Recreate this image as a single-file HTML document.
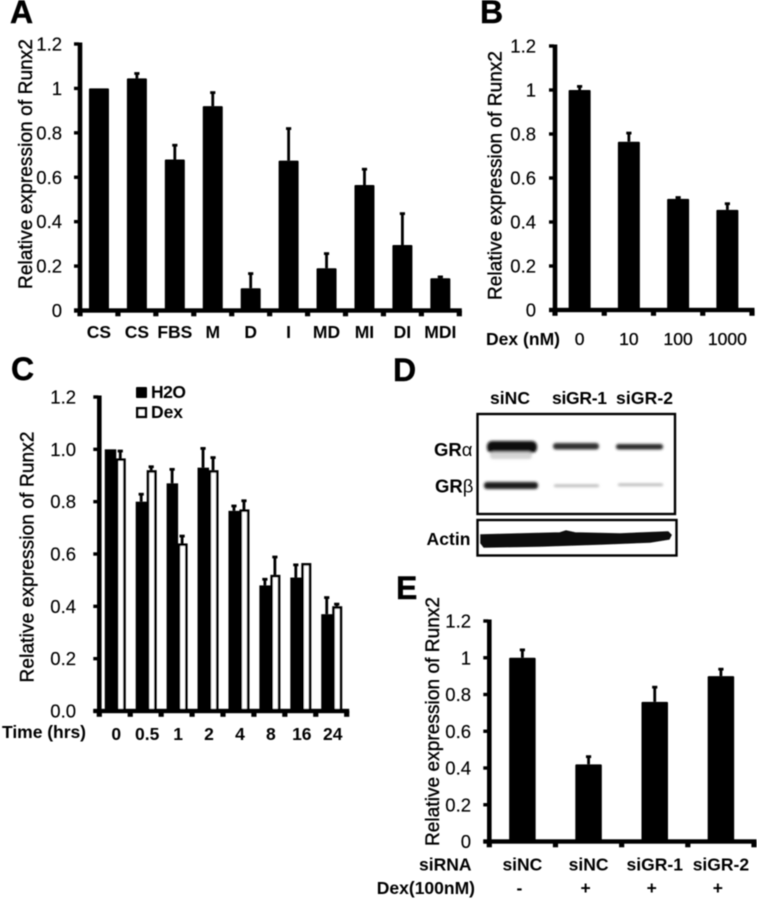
<!DOCTYPE html>
<html lang="en">
<head>
<meta charset="utf-8">
<title>Relative expression of Runx2</title>
<style>
html,body{margin:0;padding:0;background:#fff;}
svg{display:block;}
text{font-family:"Liberation Sans",Arial,sans-serif;fill:#000;}
.panel{font-weight:bold;font-size:32px;stroke:#000;stroke-width:.4px;}
.tick{font-size:18.5px;stroke:#000;stroke-width:.15px;}
.title{font-size:19px;stroke:#000;stroke-width:.4px;}
.cat{font-size:17.5px;font-weight:bold;}
.num{font-size:17.5px;stroke:#000;stroke-width:.3px;}
.blot{font-size:18.5px;font-weight:bold;}
</style>
</head>
<body>
<svg id="figure" xmlns="http://www.w3.org/2000/svg" width="757" height="900" viewBox="0 0 757 900">
  <defs>
    <filter id="soft" x="-2%" y="-2%" width="104%" height="104%"><feGaussianBlur stdDeviation="0.45"/></filter>
    <filter id="band" x="-20%" y="-80%" width="140%" height="260%"><feGaussianBlur stdDeviation="1.3"/></filter>
  </defs>
  <g id="root" filter="url(#soft)">
    <text class="panel" x="10" y="23">A</text>
    <text class="panel" x="480" y="23">B</text>
    <text class="panel" x="11" y="380">C</text>
    <text class="panel" x="393" y="381">D</text>
    <text class="panel" x="396" y="599">E</text>

    <text class="cat" x="486" y="345" textLength="74">Dex (nM)</text>
    <text class="cat" x="2" y="738" textLength="84">Time (hrs)</text>

    <rect x="136" y="387" width="11" height="11" rx="1"/>
    <text class="cat" x="151" y="398" textLength="35">H2O</text>
    <rect x="137.300" y="408.300" width="8.500" height="8.500" fill="#fff" stroke="#000" stroke-width="2.600"/>
    <text class="cat" x="151" y="418" textLength="32">Dex</text>

    <g>
      <text class="cat" x="490" y="404" textLength="40">siNC</text>
      <text class="cat" x="552" y="404" textLength="55">siGR-1</text>
      <text class="cat" x="616" y="404" textLength="57">siGR-2</text>
      <rect x="477.500" y="414" width="197.500" height="100" fill="none" stroke="#000" stroke-width="2.400"/>
      <rect x="477.500" y="520" width="199" height="35.500" fill="none" stroke="#000" stroke-width="2.400"/>
      <text class="blot" x="434" y="456">GR<tspan font-weight="normal">α</tspan></text>
      <text class="blot" x="435" y="492.500">GR<tspan font-weight="normal">β</tspan></text>
      <text class="cat" x="426.500" y="545" textLength="44">Actin</text>
      <g filter="url(#band)">
        <rect x="487" y="441" width="50" height="12" rx="5" fill="#0a0a0a"/>
        <rect x="490" y="452" width="42" height="7" rx="3" fill="#d4d4d4"/>
        <rect x="553" y="443" width="46" height="6.500" rx="3" fill="#333"/>
        <rect x="616" y="444" width="47" height="5.500" rx="2.500" fill="#2a2a2a"/>
        <rect x="484" y="482" width="54" height="7" rx="3" fill="#1a1a1a"/>
        <rect x="554" y="484.500" width="45" height="2.500" rx="1" fill="#b5b5b5"/>
        <rect x="618" y="483.500" width="45" height="2.500" rx="1" fill="#b5b5b5"/>
      </g>
      <path d="M481 535 L520 534 L560 533 L566 531 L575 533 L620 534 L668 532 L671 535 L669 539 L650 542 L600 544 L540 546 L484 547 L481 543 Z" fill="#111" stroke="#111" stroke-width="1.500"/>
    </g>

    <text class="cat" x="471.500" y="870.500" text-anchor="end">siRNA</text>
    <text class="cat" x="475" y="894" text-anchor="end">Dex(100nM)</text>
  </g>
</svg>
<script>
/* ---------- Panel A ---------- */
const aCategories = ["CS", "CS", "FBS", "M", "D", "I", "MD", "MI", "DI", "MDI"];
const aValues = [1, 1.045, 0.68, 0.92, 0.1, 0.675, 0.19, 0.565, 0.295, 0.145];
const aErrors = [0, 0.024, 0.066, 0.063, 0.068, 0.146, 0.068, 0.073, 0.143, 0.008];
const aTicks = ["0", "0.2", "0.4", "0.6", "0.8", "1", "1.2"];
/* ---------- Panel B ---------- */
const bCategories = ["0", "10", "100", "1000"];
const bValues = [1, 0.765, 0.505, 0.455];
const bErrors = [0.018, 0.041, 0.008, 0.03];
const bTicks = ["0", "0.2", "0.4", "0.6", "0.8", "1", "1.2"];
/* ---------- Panel C ---------- */
const cCategories = ["0", "0.5", "1", "2", "4", "8", "16", "24"];
const cH2O = [1, 0.8, 0.87, 0.93, 0.765, 0.48, 0.51, 0.37];
const cH2OErrors = [0, 0.03, 0.055, 0.075, 0.02, 0.025, 0.05, 0.065];
const cDex = [0.965, 0.92, 0.64, 0.92, 0.77, 0.52, 0.565, 0.4];
const cDexErrors = [0.03, 0.015, 0.03, 0.05, 0.035, 0.07, 0, 0.01];
const cTicks = ["0.0", "0.2", "0.4", "0.6", "0.8", "1.0", "1.2"];
/* ---------- Panel E ---------- */
const eCategories = ["siNC", "siNC", "siGR-1", "siGR-2"];
const eDexFlags = ["-", "+", "+", "+"];
const eValues = [1, 0.42, 0.76, 0.9];
const eErrors = [0.045, 0.044, 0.082, 0.04];
const eTicks = ["0", "0.2", "0.4", "0.6", "0.8", "1", "1.2"];

const NS = "http://www.w3.org/2000/svg";
const root = document.getElementById("root");

function shape(tag, parent, props) {
  const el = document.createElementNS(NS, tag);
  for (const k in props) el.setAttribute(k, props[k]);
  parent.appendChild(el);
  return el;
}
function label(parent, cls, x, y, anchor, str) {
  const el = shape("text", parent, { class: cls, x: x, y: y, "text-anchor": anchor });
  el.textContent = str;
  return el;
}

/* Draws axes, ticks and axis title; returns the scale functions. */
function makeAxes(name, box, ticks, count) {
  const g = shape("g", root, {});
  
  
  const yMax = 1.2;
  const y = v => box.y0 - (v / yMax) * (box.y0 - box.y1);
  const step = (box.x1 - box.x0) / count;
  const x = i => box.x0 + (i + 0.5) * step;

  const yLine = shape("rect", g, { x: box.x0 - 2.3, y: box.y1 - 1.5, width: 4.6, height: box.y0 - box.y1 + 3 });
  
  
  const xLine = shape("rect", g, { x: box.x0 - 6, y: box.y0 - 2.2, width: box.x1 - box.x0 + 8.5, height: 4.4 });
  
  

  ticks.forEach(t => {
    const ty = y(parseFloat(t));
    const mark = shape("rect", g, { x: box.x0 - 6, y: ty - 1.7, width: 5, height: 3.4 });
    
    
    const txt = label(g, "tick", box.labelX, ty + 6.5, "end", t);
    
    
  });
  for (let i = 0; i <= count; i++) {
    const mark = shape("rect", g, { x: box.x0 + i * step - 2.6, y: box.y0, width: 5.2, height: 5.8 });
    
    
  }
  const title = shape("text", g, {
    class: "title",
    transform: "translate(" + box.titleX + "," + box.titleY + ") rotate(-90)",
    textLength: box.titleLen
  });
  title.textContent = "Relative expression of Runx2";
  
  
  return { g: g, x: x, y: y };
}

function errorBar(g, name, cx, yTop, yBase) {
  const stem = shape("rect", g, { x: cx - 1.4, y: yTop, width: 2.8, height: Math.max(0, yBase - yTop) });
  
  
  const cap = shape("rect", g, { x: cx - 2.6, y: yTop - 1, width: 5.2, height: 2.8 });
  
  
}

function simpleBars(name, axes, values, errors, categories, barW, labelY, labelCls, baseY) {
  values.forEach((v, i) => {
    const cx = axes.x(i);
    const top = axes.y(v);
    if (errors[i] > 0) errorBar(axes.g, name + "-bar-" + i, cx, axes.y(v + errors[i]), top);
    const bar = shape("rect", axes.g, { x: cx - barW / 2, y: top, width: barW, height: baseY - top, rx: 1 });
    
    
    const txt = label(axes.g, labelCls, cx, labelY, "middle", categories[i]);
    
    
  });
}

/* Panel A */
const axesA = makeAxes("panel-a", { x0: 80, x1: 459.3, y0: 310.5, y1: 44, labelX: 62, titleX: 32, titleY: 289, titleLen: 250 }, aTicks, aCategories.length);
simpleBars("panel-a", axesA, aValues, aErrors, aCategories, 20, 338, "cat", 310.5);

/* Panel B */
const axesB = makeAxes("panel-b", { x0: 555, x1: 752, y0: 310, y1: 46, labelX: 536, titleX: 501.5, titleY: 300, titleLen: 249 }, bTicks, bCategories.length);
simpleBars("panel-b", axesB, bValues, bErrors, bCategories, 22, 345, "num", 310);

/* Panel C */
const axesC = makeAxes("panel-c", { x0: 99.3, x1: 346.7, y0: 711, y1: 397, labelX: 76, titleX: 33.5, titleY: 682.5, titleLen: 251 }, cTicks, cCategories.length);
cCategories.forEach((cat, i) => {
  const c = axesC.x(i);
  const yH = axesC.y(cH2O[i]);
  const yD = axesC.y(cDex[i]);
  if (cH2OErrors[i] > 0) errorBar(axesC.g, "panel-c-h2o-" + cat, c - 4.5, axesC.y(cH2O[i] + cH2OErrors[i]), yH);
  if (cDexErrors[i] > 0) errorBar(axesC.g, "panel-c-dex-" + cat, c + 5.5, axesC.y(cDex[i] + cDexErrors[i]), yD);
  const bH = shape("rect", axesC.g, { x: c - 10, y: yH, width: 11.5, height: 711 - yH });
  
  
  const bD = shape("rect", axesC.g, { x: c + 2.3, y: yD + 1.2, width: 7.4, height: 710 - yD - 1.2, fill: "#fff", stroke: "#000", "stroke-width": 2.6 });
  
  
  const txt = label(axesC.g, "cat", c + 1.5, 740, "middle", cat);
  
  
});

/* Panel E */
const axesE = makeAxes("panel-e", { x0: 489.3, x1: 754, y0: 841.5, y1: 621, labelX: 471, titleX: 439, titleY: 846, titleLen: 249 }, eTicks, eCategories.length);
simpleBars("panel-e", axesE, eValues, eErrors, eCategories, 26.5, 870.5, "cat", 841.5);
eDexFlags.forEach((f, i) => {
  const txt = label(axesE.g, "cat", axesE.x(i) - 3, 894, "middle", f);
  
  
});
</script>
</body>
</html>
